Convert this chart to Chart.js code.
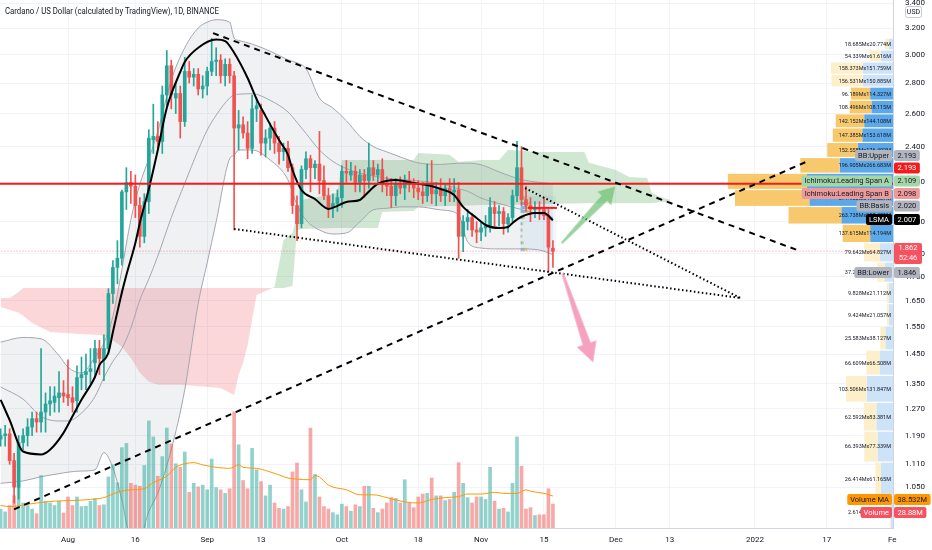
<!DOCTYPE html>
<html lang="en">
<head>
<meta charset="UTF-8">
<title>Cardano / US Dollar, 1D</title>
<script src="https://cdn.jsdelivr.net/npm/chart.js@4.4.1/dist/chart.umd.min.js"></script>
<style>
  html, body { margin: 0; padding: 0; background: #ffffff; overflow: hidden; }
</style>
</head>
<body>
<canvas id="adaChart" width="932" height="550"></canvas>
<script>
// daily candles, 17 Jul 2021 .. 17 Nov 2021
var open = [
  1.180,1.190,1.195,1.120,1.050,1.170,1.190,1.215,1.240,1.230,
  1.260,1.285,1.290,1.305,1.320,1.315,1.305,1.295,1.370,1.380,
  1.390,1.420,1.470,1.430,1.470,1.680,1.790,1.830,2.150,2.200,
  2.180,2.080,1.930,2.100,2.440,2.460,2.430,2.720,2.920,2.700,
  2.730,2.550,2.880,2.840,2.860,2.760,2.780,2.880,2.950,2.960,
  2.850,2.930,2.850,2.510,2.530,2.480,2.390,2.630,2.620,2.420,
  2.450,2.510,2.420,2.370,2.390,2.280,2.080,1.990,2.270,2.330,
  2.280,2.300,2.210,2.130,2.070,2.090,2.120,2.260,2.240,2.260,
  2.200,2.240,2.210,2.280,2.240,2.270,2.190,2.180,2.130,2.190,
  2.170,2.210,2.190,2.170,2.150,2.130,2.190,2.140,2.160,2.130,
  2.170,2.150,2.160,1.930,2.000,2.020,1.960,1.950,1.970,1.980,
  2.070,2.040,2.050,1.990,2.020,2.130,2.280,2.110,2.080,2.060,
  2.070,2.060,2.030,1.875];
var high = [
  1.210,1.220,1.210,1.140,1.190,1.210,1.240,1.260,1.260,1.470,
  1.320,1.340,1.340,1.390,1.360,1.430,1.340,1.410,1.440,1.450,
  1.470,1.500,1.500,1.520,1.700,1.820,1.910,2.160,2.280,2.260,
  2.240,2.120,2.140,2.500,2.660,2.550,2.780,3.030,2.960,2.800,
  2.780,2.980,2.950,2.900,2.900,2.850,2.910,3.120,3.050,3.000,
  2.970,2.970,2.880,2.620,2.580,2.550,2.720,2.700,2.660,2.500,
  2.540,2.550,2.460,2.420,2.430,2.300,2.130,2.290,2.370,2.350,
  2.320,2.490,2.290,2.170,2.140,2.160,2.290,2.320,2.310,2.290,
  2.270,2.270,2.420,2.320,2.300,2.330,2.230,2.220,2.220,2.230,
  2.240,2.260,2.220,2.210,2.200,2.300,2.320,2.200,2.220,2.190,
  2.220,2.220,2.200,2.030,2.060,2.040,2.000,2.000,2.030,2.120,
  2.100,2.080,2.070,2.040,2.160,2.430,2.400,2.180,2.120,2.100,
  2.100,2.120,2.060,1.910];
var low = [
  1.160,1.160,1.110,1.010,1.020,1.150,1.160,1.190,1.200,1.200,
  1.200,1.250,1.260,1.260,1.290,1.280,1.260,1.260,1.330,1.330,
  1.350,1.370,1.380,1.360,1.450,1.640,1.720,1.800,2.060,2.090,
  2.020,1.880,1.900,2.040,2.360,2.380,2.360,2.650,2.630,2.600,
  2.450,2.520,2.800,2.780,2.720,2.700,2.720,2.850,2.850,2.800,
  2.780,2.800,1.960,2.380,2.450,2.330,2.360,2.550,2.350,2.340,
  2.380,2.360,2.300,2.320,2.260,2.040,1.910,1.970,2.220,2.150,
  2.220,2.140,2.110,2.020,2.020,2.050,2.070,2.200,2.210,2.150,
  2.150,2.120,2.170,2.210,2.200,2.150,2.130,2.070,2.080,2.140,
  2.110,2.150,2.120,2.110,2.090,2.100,2.090,2.080,2.100,2.080,
  2.100,2.100,1.830,1.860,1.960,1.930,1.900,1.910,1.930,1.950,
  1.980,1.980,1.940,1.950,2.000,2.100,2.080,2.050,2.000,2.020,
  2.010,2.010,1.770,1.790];
var close = [
  1.190,1.195,1.120,1.050,1.170,1.190,1.215,1.240,1.230,1.260,
  1.285,1.295,1.310,1.320,1.310,1.305,1.290,1.370,1.380,1.390,
  1.400,1.470,1.435,1.470,1.680,1.790,1.830,2.150,2.200,2.180,
  2.080,1.930,2.100,2.450,2.460,2.430,2.720,2.920,2.720,2.730,
  2.550,2.880,2.840,2.860,2.760,2.780,2.880,2.950,2.960,2.850,
  2.930,2.850,2.510,2.530,2.480,2.390,2.630,2.650,2.420,2.450,
  2.510,2.420,2.370,2.390,2.280,2.080,1.990,2.270,2.330,2.280,
  2.300,2.210,2.130,2.070,2.090,2.120,2.260,2.250,2.260,2.200,
  2.240,2.210,2.280,2.240,2.270,2.190,2.180,2.130,2.190,2.170,
  2.210,2.190,2.170,2.150,2.130,2.190,2.140,2.160,2.130,2.170,
  2.150,2.160,1.930,2.000,2.020,1.960,1.950,1.970,1.980,2.070,
  2.040,2.050,1.990,2.020,2.130,2.280,2.110,2.080,2.060,2.070,
  2.060,2.030,1.880,1.862];
// volume in millions
var volume = [
  22.8,19.4,27.1,38.7,51.6,30.1,27.1,22.8,17.2,63.2,
  32.3,30.1,27.1,32.3,18.1,37.4,27.1,37.4,25.8,26.2,
  32.3,35.7,27.1,28.0,61.5,76.1,54.6,96.8,101.9,53.8,
  51.6,50.3,75.3,129.0,109.7,62.4,86.0,120.4,101.1,77.4,
  73.1,91.6,43.0,53.8,49.5,51.6,46.0,83.0,48.6,46.0,
  41.7,47.3,139.8,100.2,57.2,47.3,95.9,70.1,55.9,38.7,
  51.6,30.1,23.7,22.8,25.8,67.5,78.3,46.0,31.4,120.4,
  64.5,37.4,25.8,22.8,18.5,15.9,28.8,25.8,20.2,28.0,
  25.8,50.3,50.3,23.7,18.5,22.8,30.1,36.6,35.7,30.1,
  58.1,30.1,24.5,37.4,40.9,41.7,60.2,38.7,38.7,33.1,
  34.4,43.0,78.7,53.8,36.6,30.1,37.4,37.4,34.4,73.1,
  32.3,22.8,23.7,19.4,53.8,109.7,74.4,22.8,24.5,15.1,
  15.9,15.9,47.3,28.88];

// indicator lines, x = days from 1 Aug 2021
var vmaDay = [-15,-13,-7,-3,1,5,8,11,14,17,19,22,24,26,28,30,33,36,38,39,42,46,49,51,54,55,56,58,62,65,68,71,75,78,81,84,87,89,92,95,97,100,102,103,106,108];
var vmaVal = [27.1,25.8,30.1,32.3,33.1,34.4,36.6,43.0,46.0,47.3,54.6,62.4,73.1,77.4,78.7,76.1,73.1,71.8,76.1,73.1,71.8,65.8,60.2,58.9,58.1,63.2,61.5,51.6,46.0,40.0,40.0,36.6,31.4,30.1,34.4,36.6,37.8,40.9,40.9,43.0,41.7,41.7,46.0,44.3,41.7,38.532];

var lsmaDay = [-15,-13,-10,-6,-4,-1,1,3,6,7,9,10,12,13,15,16,18,20,22,25,26,29,33,35,37,40,42,44,47,49,50,52,55,58,60,62,65,66,69,73,77,80,83,86,88,91,93,96,98,99,101,104,106,108];
var lsmaVal = [1.298,1.236,1.145,1.137,1.150,1.198,1.247,1.298,1.372,1.412,1.455,1.530,1.684,1.757,1.899,1.994,2.165,2.380,2.636,2.876,2.947,3.050,3.111,3.100,3.013,2.834,2.693,2.584,2.438,2.352,2.267,2.160,2.113,2.063,2.078,2.098,2.108,2.129,2.192,2.213,2.197,2.186,2.165,2.134,2.073,2.018,1.984,1.969,1.974,1.994,2.024,2.043,2.043,2.007];

var bbDay = [-15,-10,-6,-2,0,3,6,8,10,12,14,16,18,20,23,26,29,31,33,36,37,38,41,45,49,51,53,56,59,62,65,68,71,74,78,83,87,89,92,96,101,105,108];
var bbUpper = [1.493,1.510,1.505,1.445,1.405,1.385,1.440,1.490,1.590,1.780,2.010,2.190,2.330,2.490,2.820,3.050,3.200,3.246,3.265,3.246,3.123,3.105,3.078,3.025,2.962,2.940,2.900,2.700,2.635,2.555,2.460,2.400,2.369,2.340,2.307,2.298,2.305,2.305,2.296,2.257,2.215,2.200,2.193];
var bbBasis = [1.339,1.300,1.247,1.233,1.233,1.257,1.308,1.370,1.425,1.470,1.545,1.654,1.740,1.840,2.020,2.195,2.380,2.498,2.590,2.700,2.720,2.725,2.728,2.685,2.610,2.545,2.478,2.380,2.315,2.275,2.250,2.235,2.222,2.216,2.208,2.193,2.166,2.153,2.118,2.090,2.060,2.037,2.020];
var bbLower = [1.060,1.066,1.077,1.085,1.089,1.092,1.095,1.142,1.100,1.018,0.930,0.930,0.990,1.035,1.150,1.330,1.640,1.810,2.000,2.330,2.350,2.380,2.380,2.323,2.213,2.083,2.008,1.960,1.941,1.946,1.999,2.058,2.066,2.073,2.073,2.058,2.033,1.904,1.876,1.872,1.872,1.867,1.846];

var ichiDay = [-15,-13,-11,-10,-8,-4,0,7,9,12,14,16,18,20,25,34,37,38,39,40,41,42,46,48,50,51,52,60,61,69,70,77,78,85,87,92,96,98,105,115,116,122,125,129,130,132,134];
var spanA = [1.626,1.615,1.603,1.592,1.564,1.530,1.526,1.519,1.511,1.476,1.437,1.386,1.356,1.346,1.346,1.336,1.313,1.379,1.420,1.483,1.576,1.674,1.707,1.913,1.946,2.033,2.108,2.144,2.323,2.323,2.323,2.323,2.363,2.352,2.312,2.323,2.323,2.380,2.369,2.369,2.307,2.267,2.229,2.224,2.144,2.123,2.109];
var spanB = [1.662,1.662,1.686,1.703,1.703,1.703,1.703,1.703,1.703,1.703,1.703,1.703,1.703,1.703,1.703,1.703,1.703,1.703,1.703,1.703,1.703,1.703,1.703,1.703,1.711,1.960,1.965,1.969,1.969,1.969,2.048,2.053,2.073,2.078,2.078,2.083,2.083,2.083,2.087,2.092,2.092,2.092,2.092,2.092,2.092,2.098,2.098];

// drawings
var hLevel = 2.193;
var pocLevel = 2.068, pocDay = [102.4, 108.9];
var dashDownDay = [32.3, 162.4], dashDownVal = [3.16, 1.867];
var dashUpDay = [-12.0, 164.8], dashUpVal = [0.995, 2.317];
var dotADay = [37.0, 149.7], dotAVal = [1.965, 1.662];
var dotBDay = [101.8, 149.7], dotBVal = [2.170, 1.662];
var greenArrowDay = [110.0, 122.0], greenArrowVal = [1.899, 2.181];
var pinkArrowDay = [110.2, 116.9], pinkArrowVal = [1.762, 1.423];
var frvpDay = [100.8, 108.7], frvpVal = [1.86, 2.13];
var frvpPrice = [2.12, 2.09, 2.07, 2.05, 2.02, 1.99, 1.96, 1.93, 1.90, 1.87];
var frvpUp = [8, 15, 18, 12, 6, 4, 3, 3, 5, 10];
var frvpDown = [6, 20, 22, 14, 8, 5, 4, 3, 6, 12];

// visible range volume profile (row edges, volumes in M)
var vpEdge = [3.1216,3.0344,2.9472,2.8600,2.7728,2.6856,2.5984,2.5112,2.4240,2.3368,2.2496,2.1624,2.0752,1.9880,1.9008,1.8136,1.7264,1.6392,1.5520,1.4648,1.3776,1.2904,1.2032,1.1160,1.0288,0.9416];
var vpUp = [18.685,54.339,158.373,156.531,96.189,108.496,142.152,147.385,152.558,196.905,394.216,371.960,263.738,137.615,79.642,37.215,9.828,9.424,25.583,66.609,103.506,62.592,66.393,26.414,2.614];
var vpDown = [20.774,61.616,151.759,150.885,114.327,108.115,144.108,153.618,176.402,266.683,431.552,418.237,258.401,114.194,64.827,41.513,21.112,21.057,38.127,66.508,131.847,83.381,77.339,61.165,12.508];

// axes
var xTickDays = [0, 15, 31, 43, 61, 78, 92, 106, 122, 134, 153, 169];
var xTickLabels = ['Aug', '16', 'Sep', '13', 'Oct', '18', 'Nov', '15', 'Dec', '13', '2022', '17'];
var yTicks = [3.4, 3.2, 3.0, 2.8, 2.6, 2.4, 2.2, 2.0, 1.85, 1.75, 1.65, 1.55, 1.45, 1.35, 1.27, 1.19, 1.11, 1.05];

var FONT = 'Roboto, "Open Sans", sans-serif';
var UP = '#26a69a', DOWN = '#ef5350';
var xMin = -15.145, xMax = 183.74;

var candleDay = [];
var firstDay = Date.UTC(2021, 6, 17), aug1 = Date.UTC(2021, 7, 1);
for (var i = 0; i < close.length; i++) {
    candleDay.push((firstDay + i * 864e5 - aug1) / 864e5);
}

function pts(days, vals) {
    return days.map(function (d, k) { return {x: d, y: vals[k]}; });
}
function last(arr) { return arr[arr.length - 1]; }
function fmtM(v) { return parseFloat(v.toFixed(3)) + 'M'; }

function roundRect(ctx, x, y, w, h, r) {
    ctx.beginPath();
    ctx.moveTo(x + r, y);
    ctx.lineTo(x + w - r, y);
    ctx.quadraticCurveTo(x + w, y, x + w, y + r);
    ctx.lineTo(x + w, y + h - r);
    ctx.quadraticCurveTo(x + w, y + h, x + w - r, y + h);
    ctx.lineTo(x + r, y + h);
    ctx.quadraticCurveTo(x, y + h, x, y + h - r);
    ctx.lineTo(x, y + r);
    ctx.quadraticCurveTo(x, y, x + r, y);
    ctx.closePath();
}

function drawArrow(ctx, x1, y1, x2, y2, tailW, neckW, headW, headL, fill, edge) {
    var dx = x2 - x1, dy = y2 - y1, len = Math.sqrt(dx * dx + dy * dy);
    var ux = dx / len, uy = dy / len, nx = -uy, ny = ux;
    var bx = x2 - ux * headL, by = y2 - uy * headL;
    ctx.beginPath();
    ctx.moveTo(x1 + nx * tailW / 2, y1 + ny * tailW / 2);
    ctx.lineTo(bx + nx * neckW / 2, by + ny * neckW / 2);
    ctx.lineTo(bx + nx * headW / 2, by + ny * headW / 2);
    ctx.lineTo(x2, y2);
    ctx.lineTo(bx - nx * headW / 2, by - ny * headW / 2);
    ctx.lineTo(bx - nx * neckW / 2, by - ny * neckW / 2);
    ctx.lineTo(x1 - nx * tailW / 2, y1 - ny * tailW / 2);
    ctx.closePath();
    ctx.fillStyle = fill;
    ctx.fill();
    ctx.strokeStyle = edge;
    ctx.lineWidth = 1;
    ctx.stroke();
}

// tag layout (label centres on the price axis, stacked like TradingView does)
var tags = [
    {name: 'BB:Upper', price: last(bbUpper).toFixed(3), cy: 155.5, bg: '#b2b5be', fg: '#131722'},
    {name: null, price: hLevel.toFixed(3), cy: 168, bg: '#f21c1c', fg: '#ffffff'},
    {name: 'Ichimoku:Leading Span A', price: last(spanA).toFixed(3), cy: 181, bg: '#a5d6a7', fg: '#131722'},
    {name: 'Ichimoku:Leading Span B', price: last(spanB).toFixed(3), cy: 193.5, bg: '#ef9a9a', fg: '#131722'},
    {name: 'BB:Basis', price: last(bbBasis).toFixed(3), cy: 206, bg: '#b2b5be', fg: '#131722'},
    {name: 'LSMA', price: last(lsmaVal).toFixed(3), cy: 219.5, bg: '#000000', fg: '#ffffff'},
    {name: 'BB:Lower', price: last(bbLower).toFixed(3), cy: 272.5, bg: '#b2b5be', fg: '#131722'},
    {name: 'Volume MA', price: fmtM(last(vmaVal)), cy: 499.5, bg: '#ff9800', fg: '#131722'},
    {name: 'Volume', price: fmtM(last(volume)), cy: 512.5, bg: '#f7525f', fg: '#ffffff'}
];

var overlay = {
    id: 'overlay',
    beforeDatasetsDraw: function (chart) {
        var ctx = chart.ctx, xs = chart.scales.x, ys = chart.scales.y, a = chart.chartArea;
        var k, yt, yb, wd, wu;
        ctx.save();
        // volume profile at the right edge
        ctx.font = '5.5px ' + FONT;
        ctx.textAlign = 'right';
        ctx.textBaseline = 'middle';
        for (k = 0; k < vpUp.length; k++) {
            yt = ys.getPixelForValue(vpEdge[k]) + 0.6;
            yb = Math.min(ys.getPixelForValue(vpEdge[k + 1]) - 0.6, a.bottom);
            var va = k >= 4 && k <= 13;
            wd = vpDown[k] * 0.2;
            wu = vpUp[k] * 0.2;
            ctx.fillStyle = va ? '#5ca8e8' : '#cde3f8';
            ctx.fillRect(a.right - wd, yt, wd, yb - yt);
            ctx.fillStyle = va ? '#f8c96c' : '#fdefca';
            ctx.fillRect(a.right - wd - wu, yt, wu, yb - yt);
            ctx.fillStyle = '#131722';
            ctx.fillText(vpUp[k].toFixed(3) + 'Mx' + vpDown[k].toFixed(3) + 'M', a.right - 2, (yt + yb) / 2 + 0.5);
        }
        // fixed range volume profile box
        var rx0 = xs.getPixelForValue(frvpDay[0]), rx1 = xs.getPixelForValue(frvpDay[1]);
        var ry0 = ys.getPixelForValue(frvpVal[1]), ry1 = ys.getPixelForValue(frvpVal[0]);
        ctx.fillStyle = 'rgba(33,150,243,0.08)';
        ctx.fillRect(rx0, ry0, rx1 - rx0, ry1 - ry0);
        for (k = 0; k < frvpPrice.length; k++) {
            var cy = ys.getPixelForValue(frvpPrice[k]);
            wu = frvpUp[k] * 0.3;
            wd = frvpDown[k] * 0.3;
            ctx.fillStyle = 'rgba(33,150,243,0.55)';
            ctx.fillRect(rx0, cy - 1.5, wd, 3);
            ctx.fillStyle = 'rgba(251,192,45,0.75)';
            ctx.fillRect(rx0 + wd, cy - 1.5, wu, 3);
        }
        ctx.restore();
    },
    afterDatasetsDraw: function (chart) {
        var ctx = chart.ctx, xs = chart.scales.x, ys = chart.scales.y;
        ctx.save();
        drawArrow(ctx,
            xs.getPixelForValue(greenArrowDay[0]), ys.getPixelForValue(greenArrowVal[0]),
            xs.getPixelForValue(greenArrowDay[1]), ys.getPixelForValue(greenArrowVal[1]),
            2, 8, 20, 17, 'rgba(102,187,106,0.65)', 'rgba(200,230,201,0.9)');
        drawArrow(ctx,
            xs.getPixelForValue(pinkArrowDay[0]), ys.getPixelForValue(pinkArrowVal[0]),
            xs.getPixelForValue(pinkArrowDay[1]), ys.getPixelForValue(pinkArrowVal[1]),
            2, 8, 20, 19, 'rgba(240,98,146,0.6)', 'rgba(248,187,208,0.9)');
        ctx.restore();
    },
    afterDraw: function (chart) {
        var ctx = chart.ctx, a = chart.chartArea;
        ctx.save();
        ctx.textBaseline = 'middle';
        // title
        ctx.font = '8.5px ' + FONT;
        ctx.fillStyle = '#131722';
        ctx.textAlign = 'left';
        ctx.fillText('Cardano / US Dollar (calculated by TradingView), 1D, BINANCE', 5, 12, 214);
        // cut-off Feb label
        ctx.font = '8px ' + FONT;
        ctx.fillText('Fe', a.right - 5, 540);
        // currency box
        ctx.strokeStyle = '#c8cbd2';
        ctx.lineWidth = 1;
        roundRect(ctx, 905.5, 6.5, 16, 11, 2);
        ctx.fillStyle = '#ffffff';
        ctx.fill();
        ctx.stroke();
        ctx.fillStyle = '#131722';
        ctx.font = '7px ' + FONT;
        ctx.textAlign = 'center';
        ctx.fillText('USD', 913.5, 12.5);
        // axis tags
        ctx.font = '7.5px ' + FONT;
        tags.forEach(function (t) {
            var pw = ctx.measureText(t.price).width + 7;
            roundRect(ctx, a.right + 1, t.cy - 5.5, pw, 11, 2);
            ctx.fillStyle = t.bg;
            ctx.fill();
            ctx.fillStyle = t.fg;
            ctx.textAlign = 'center';
            ctx.fillText(t.price, a.right + 1 + pw / 2, t.cy + 0.5);
            if (t.name) {
                var nw = ctx.measureText(t.name).width + 6;
                roundRect(ctx, a.right - 1 - nw, t.cy - 5.5, nw, 11, 2);
                ctx.fillStyle = t.bg;
                ctx.fill();
                ctx.fillStyle = t.fg;
                ctx.fillText(t.name, a.right - 1 - nw / 2, t.cy + 0.5);
            }
        });
        // last price with countdown
        roundRect(ctx, a.right + 1, 243, 28, 21, 2);
        ctx.fillStyle = '#f7525f';
        ctx.fill();
        ctx.fillStyle = '#ffffff';
        ctx.fillText(last(close).toFixed(3), a.right + 15, 248.5);
        ctx.fillText('52:46', a.right + 15, 258.5);
        ctx.restore();
    }
};

var volColors = close.map(function (c, k) { return c >= open[k] ? 'rgba(38,166,154,0.5)' : 'rgba(239,83,80,0.5)'; });
var candleColors = close.map(function (c, k) { return c >= open[k] ? UP : DOWN; });

var ctx = document.getElementById('adaChart');
var chart = new Chart(ctx, {
    type: 'bar',
    data: {
        datasets: [
            { type: 'line', label: 'Leading Span A', data: pts(ichiDay, spanA), borderWidth: 0, borderColor: 'rgba(0,0,0,0)', pointRadius: 0,
              fill: {target: '+1', above: 'rgba(67,160,71,0.25)', below: 'rgba(242,54,69,0.2)'}, order: 100 },
            { type: 'line', label: 'Leading Span B', data: pts(ichiDay, spanB), borderWidth: 0, borderColor: 'rgba(0,0,0,0)', pointRadius: 0, order: 99 },
            { type: 'line', label: 'BB Upper', data: pts(bbDay, bbUpper), borderWidth: 1, borderColor: '#a3a6af', pointRadius: 0,
              cubicInterpolationMode: 'monotone', fill: '+1', backgroundColor: 'rgba(120,123,134,0.11)', order: 95 },
            { type: 'line', label: 'BB Lower', data: pts(bbDay, bbLower), borderWidth: 1, borderColor: '#a3a6af', pointRadius: 0,
              cubicInterpolationMode: 'monotone', order: 94 },
            { type: 'line', label: 'BB Basis', data: pts(bbDay, bbBasis), borderWidth: 1, borderColor: '#a3a6af', pointRadius: 0,
              cubicInterpolationMode: 'monotone', order: 93 },
            { label: 'Volume', data: candleDay.map(function (d, k) { return {x: d, y: volume[k]}; }), yAxisID: 'yv',
              backgroundColor: volColors, barThickness: 3, grouped: false, order: 90 },
            { type: 'line', label: 'Volume MA', data: pts(vmaDay, vmaVal), yAxisID: 'yv', borderWidth: 1, borderColor: '#ff9800',
              pointRadius: 0, cubicInterpolationMode: 'monotone', order: 89 },
            { label: 'Wicks', data: candleDay.map(function (d, k) { return {x: d, y: [low[k], high[k]]}; }),
              backgroundColor: candleColors, barThickness: 1, grouped: false, order: 60 },
            { label: 'Bodies', data: candleDay.map(function (d, k) { return {x: d, y: [open[k], close[k]]}; }),
              backgroundColor: candleColors, barThickness: 3, minBarLength: 1, grouped: false, order: 59 },
            { type: 'line', label: 'LSMA', data: pts(lsmaDay, lsmaVal), borderWidth: 2, borderColor: '#000000', pointRadius: 0,
              cubicInterpolationMode: 'monotone', order: 50 },
            { type: 'line', label: 'Last price', data: pts([xMin - 1, xMax + 1], [last(close), last(close)]), borderWidth: 1,
              borderColor: 'rgba(242,54,69,0.55)', borderDash: [1, 2], pointRadius: 0, order: 45 },
            { type: 'line', label: 'Level', data: pts([xMin - 1, xMax + 1], [hLevel, hLevel]), borderWidth: 2,
              borderColor: '#f21c1c', pointRadius: 0, order: 40 },
            { type: 'line', label: 'Down trend', data: pts(dashDownDay, dashDownVal), borderWidth: 2, borderColor: '#000000',
              borderDash: [6, 5], pointRadius: 0, order: 30 },
            { type: 'line', label: 'Up trend', data: pts(dashUpDay, dashUpVal), borderWidth: 2, borderColor: '#000000',
              borderDash: [6, 5], pointRadius: 0, order: 30 },
            { type: 'line', label: 'Support', data: pts(dotADay, dotAVal), borderWidth: 2, borderColor: '#000000',
              borderDash: [1.5, 2.5], pointRadius: 0, order: 30 },
            { type: 'line', label: 'Wedge', data: pts(dotBDay, dotBVal), borderWidth: 2, borderColor: '#000000',
              borderDash: [1.5, 2.5], pointRadius: 0, order: 30 },
            { type: 'line', label: 'POC', data: pts(pocDay, [pocLevel, pocLevel]), borderWidth: 2, borderColor: '#f21c1c',
              pointRadius: 0, order: 20 }
        ]
    },
    options: {
        responsive: false,
        devicePixelRatio: 1,
        animation: false,
        events: [],
        layout: { padding: 0, autoPadding: false },
        plugins: { legend: { display: false }, tooltip: { enabled: false }, filler: { propagate: false } },
        scales: {
            x: {
                type: 'linear', min: xMin, max: xMax, offset: false,
                grid: { color: '#f0f3fa', drawTicks: false, offset: false },
                border: { color: '#d1d4dc' },
                afterBuildTicks: function (s) { s.ticks = xTickDays.map(function (v) { return {value: v}; }); },
                ticks: {
                    autoSkip: false, maxRotation: 0, padding: 7, color: '#131722',
                    font: { size: 8, family: FONT },
                    callback: function (v, k) { return xTickLabels[k]; }
                },
                afterFit: function (s) { s.height = 22; s.paddingLeft = 0; s.paddingRight = 0; }
            },
            y: {
                type: 'logarithmic', position: 'right', min: 0.951, max: 3.425,
                grid: { color: '#f0f3fa', drawTicks: false },
                border: { color: '#d1d4dc' },
                afterBuildTicks: function (s) { s.ticks = yTicks.map(function (v) { return {value: v}; }); },
                ticks: {
                    autoSkip: false, padding: 12, color: '#131722', crossAlign: 'near',
                    font: { size: 8, family: FONT },
                    callback: function (v) { return Number(v).toFixed(3); }
                },
                afterFit: function (s) { s.width = 39; s.paddingTop = 0; s.paddingBottom = 0; }
            },
            yv: { type: 'linear', display: false, min: 0, max: 636 }
        }
    },
    plugins: [overlay]
});
</script>
</body>
</html>
